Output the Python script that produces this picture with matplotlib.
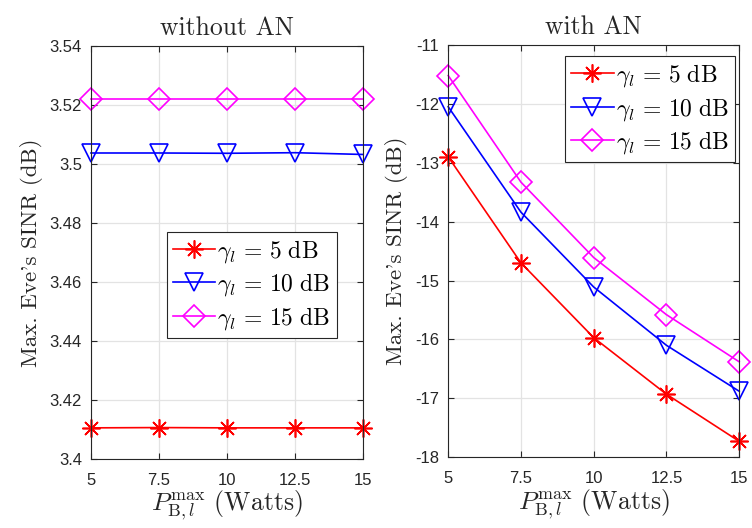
import matplotlib
matplotlib.use("Agg")
import matplotlib.pyplot as plt

plt.rcParams['mathtext.fontset'] = 'cm'
plt.rcParams['font.family'] = ['Liberation Sans', 'DejaVu Sans']

# data
power = [5, 7.5, 10, 12.5, 15]
labels = [r'$\gamma_l\, =\, 5\ \mathrm{dB}$',
          r'$\gamma_l\, =\, 10\ \mathrm{dB}$',
          r'$\gamma_l\, =\, 15\ \mathrm{dB}$']

# without AN
noan_5 = [3.4105, 3.4106, 3.4105, 3.4105, 3.4105]
noan_10 = [3.5037, 3.5037, 3.5036, 3.5038, 3.5032]
noan_15 = [3.5219, 3.5219, 3.5219, 3.5219, 3.5219]

# with AN
an_5 = [-12.90, -14.70, -15.97, -16.93, -17.73]
an_10 = [-12.05, -13.84, -15.11, -16.10, -16.88]
an_15 = [-11.52, -13.33, -14.61, -15.58, -16.38]

colors = ['#ff0000', '#0000ff', '#ff00ff']
markers = [(8, 2, 0), 'v', 'D']
msizes = [13, 13, 11]
dark = '#262626'

fig = plt.figure(figsize=(7.52, 5.28), dpi=100)
ax1 = fig.add_axes([0.121, 0.131, 0.362, 0.782])
ax2 = fig.add_axes([0.596, 0.134, 0.387, 0.781])


def style(ax):
    ax.grid(True, color='#e3e3e3', linewidth=0.9)
    ax.set_axisbelow(True)
    ax.tick_params(direction='in', top=True, right=True, labelsize=12,
                   colors=dark, length=4)
    ax.tick_params(axis='y', pad=6.5)
    ax.tick_params(axis='x', pad=10)
    for s in ax.spines.values():
        s.set_color(dark)
        s.set_linewidth(0.8)
    ax.set_xlim(5, 15)
    ax.set_xticks(power)
    ax.set_xticklabels(['5', '7.5', '10', '12.5', '15'])
    ax.set_xlabel(r'$P_{\mathrm{B},l}^{\max}$ (Watts)', family='cmr10',
                  fontsize=18.5, color=dark, labelpad=1)
    ax.set_ylabel("Max. Eve's SINR (dB)", family='cmr10', fontsize=16.5,
                  color=dark, labelpad=5)


for ax, series in [(ax1, [noan_5, noan_10, noan_15]),
                   (ax2, [an_5, an_10, an_15])]:
    for y, c, m, ms, lab in zip(series, colors, markers, msizes, labels):
        ax.plot(power, y, color=c, marker=m, markersize=ms,
                markerfacecolor='none', markeredgecolor=c,
                markeredgewidth=1.2, linewidth=1.2, label=lab, clip_on=False)
    style(ax)

ax1.set_ylim(3.4, 3.54)
ax1.set_yticks([3.4, 3.42, 3.44, 3.46, 3.48, 3.5, 3.52, 3.54])
ax1.set_yticklabels(['3.4', '3.42', '3.44', '3.46', '3.48', '3.5', '3.52', '3.54'])
ax1.set_title('without AN', family='cmr10', fontsize=18.5, color=dark, pad=8)

ax2.set_ylim(-18, -11)
ax2.set_yticks(range(-18, -10))
ax2.set_yticklabels([str(v) for v in range(-18, -10)])
ax2.set_title('with AN', family='cmr10', fontsize=18.5, color=dark, pad=8)

leg_kw = dict(fontsize=17, fancybox=False, framealpha=1, edgecolor=dark,
              handlelength=1.8, handletextpad=0.1, borderpad=0.25,
              labelspacing=0.28, borderaxespad=0)
leg1 = ax1.legend(loc='upper left', bbox_to_anchor=(0.278, 0.55), **leg_kw)
leg2 = ax2.legend(loc='upper right', bbox_to_anchor=(0.986, 0.973), **leg_kw)
for lg in (leg1, leg2):
    lg.get_frame().set_linewidth(0.8)

fig.savefig('out.png', dpi=100)
